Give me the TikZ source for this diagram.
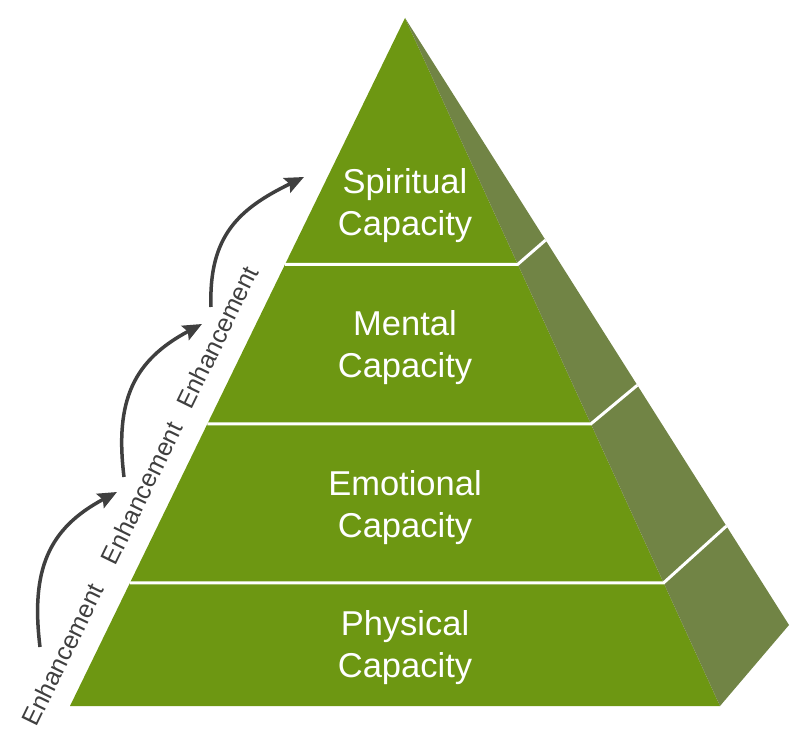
\documentclass[tikz,border=0pt]{standalone}
\usepackage{fontspec}
\setmainfont{Liberation Sans}
\usetikzlibrary{arrows.meta, calc}

\definecolor{frontgreen}{HTML}{6D9712}
\definecolor{sidegreen}{HTML}{718445}
\definecolor{arrowgray}{HTML}{3F3F3F}

\begin{document}
\begin{tikzpicture}[x=1pt, y=1pt,
    level/.style={text=white, align=center, font=\fontsize{34.5}{42}\selectfont},
    enh/.style={text=arrowgray, rotate=64, font=\fontsize{25}{30}\selectfont},
    band/.style={white, line width=3pt},
    arr/.style={arrowgray, line width=3.5pt, looseness=1.15, -{Stealth[length=19pt, width=16pt, inset=3pt]}}]
    \useasboundingbox (0,0) rectangle (800,747);

    % Pyramid
    \coordinate (apex) at (405,729);
    \coordinate (bl) at (70,41);
    \coordinate (br) at (720,41);
    \coordinate (rt) at (789,122);
    \fill[frontgreen] (bl) -- (apex) -- (br) -- cycle;
    \fill[sidegreen] (apex) -- (rt) -- (br) -- cycle;
    \foreach \t/\u in {0.358/0.366, 0.590/0.605, 0.821/0.837}
        \draw[band] ($(apex)!\t!(bl)$) -- ($(apex)!\t!(br)$) -- ($(apex)!\u!(rt)$);

    % Levels
    \node[level] (spiritual) at (405,541) {Spiritual\\Capacity};
    \node[level] (mental) at (405,399) {Mental\\Capacity};
    \node[level] (emotional) at (405,239) {Emotional\\Capacity};
    \node[level] (physical) at (405,99) {Physical\\Capacity};

    % Enhancement steps
    \foreach \x/\y [count=\i] in {62.7/92.4, 141.6/254.2, 217.3/409.7}
        \node[enh] (enh\i) at (\x,\y) {Enhancement};
    \coordinate (t1) at (40,100);  \coordinate (h1) at (117,255);
    \coordinate (t2) at (124,270); \coordinate (h2) at (202,423);
    \coordinate (t3) at (211,440); \coordinate (h3) at (304,570);
    \draw[arr] (t1) to[out=97, in=208] (h1);
    \draw[arr] (t2) to[out=97, in=208] (h2);
    \draw[arr] (t3) to[out=92, in=206] (h3);
\end{tikzpicture}
\end{document}
